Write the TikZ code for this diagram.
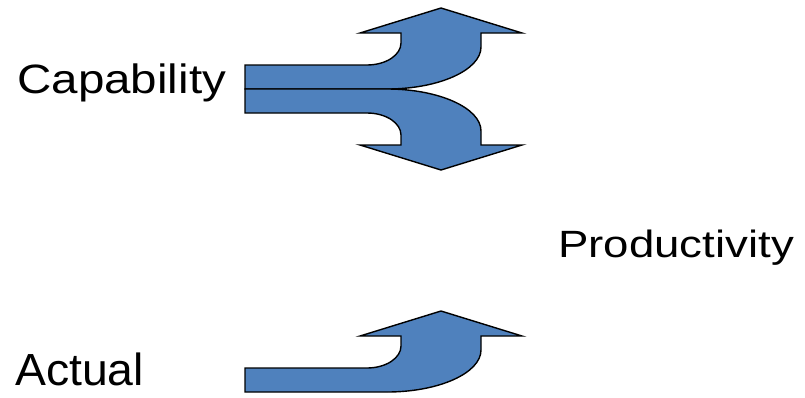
\documentclass[tikz,border=0pt]{standalone}
\usepackage{fontspec}
\setmainfont{Liberation Sans}
\usepackage{xcolor}
\usepackage{tikz}
\definecolor{arrowblue}{RGB}{79,129,189}

% one bent arrow, origin at the lower left corner of its shaft
\newcommand{\bentarrow}{(0,0) -- (0,-24) -- (122,-24)
  .. controls (141,-24) and (156,-34) .. (156,-46) -- (156,-56) -- (115,-56)
  -- (196,-81) -- (277,-56) -- (236,-56) -- (236,-42)
  .. controls (236,-19) and (194,0) .. (142,0) -- cycle}

\begin{document}
\begin{tikzpicture}[x=1pt, y=-1pt,
    bigarrow/.style={fill=arrowblue, draw=black, line width=1.4pt, line join=miter},
    lbl/.style={anchor=base west, inner sep=0pt, transform shape}
  ]
    \useasboundingbox (0,0) rectangle (805,397);
    % capability splits up and down
    \draw[bigarrow, shift={(245,89)}] \bentarrow;
    \draw[bigarrow, shift={(245,89)}, yscale=-1] \bentarrow;
    % actual only goes up
    \draw[bigarrow, shift={(245,392)}] \bentarrow;

    \node[lbl, xscale=1.16, font=\fontsize{41}{49}\selectfont] (capability) at (17,93) {Capability};
    \node[lbl, xscale=1.2, font=\fontsize{38}{46}\selectfont] (productivity) at (558,257) {Productivity};
    \node[lbl, xscale=1.03, font=\fontsize{45}{54}\selectfont] (actual) at (15,385) {Actual};
  \end{tikzpicture}
\end{document}
